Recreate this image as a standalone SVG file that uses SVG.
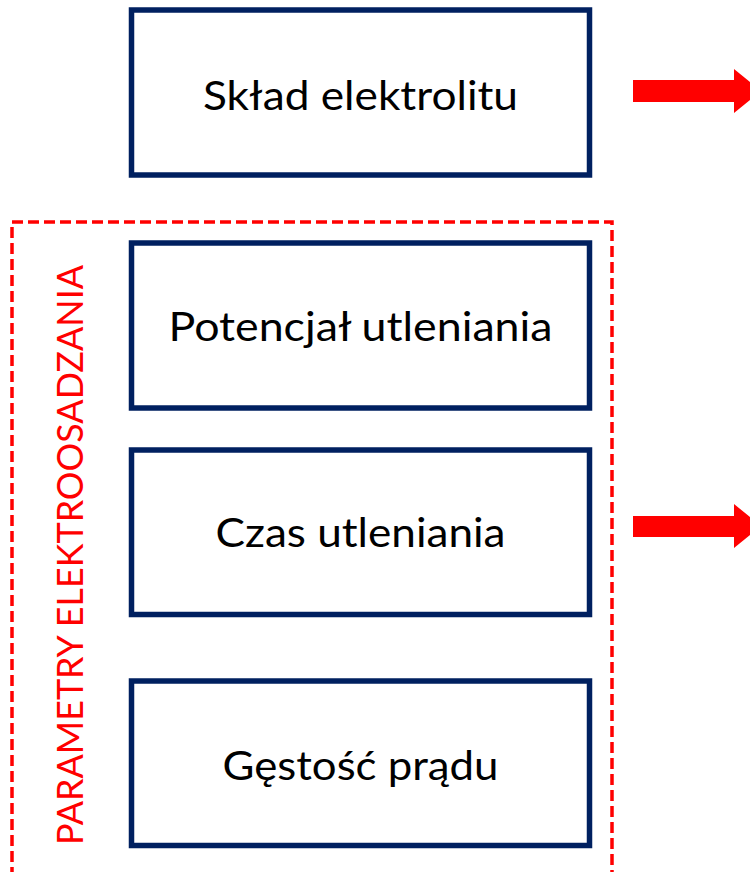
<svg xmlns="http://www.w3.org/2000/svg" width="750" height="872" viewBox="0 0 750 872">
<style>
.box{fill:#fff;stroke:#002060;stroke-width:5.5}
.lbl{font-family:Lato,"Liberation Sans",Arial,sans-serif;font-size:40px;fill:#000;text-anchor:middle}
.arrow{fill:#ff0000}
.grp{fill:none;stroke:#ff0000;stroke-width:3.5;stroke-dasharray:11 5}
.vlbl{font-family:Lato,"Liberation Sans",Arial,sans-serif;font-size:37px;fill:#ff0000;text-anchor:middle}
</style>
<rect width="750" height="872" fill="#fff"/>
<g id="group-parametry">
<rect class="grp" x="12" y="222" width="600" height="680"/>
<text class="vlbl" transform="translate(83,555) rotate(-90)" x="0" y="0" textLength="580" lengthAdjust="spacingAndGlyphs">PARAMETRY ELEKTROOSADZANIA</text>
</g>
<g id="node-sklad">
<rect class="box" x="131.5" y="10" width="458" height="165"/>
<text class="lbl" x="360.5" y="110" textLength="315" lengthAdjust="spacingAndGlyphs">Skład elektrolitu</text>
</g>
<g id="node-potencjal">
<rect class="box" x="131.5" y="243" width="458" height="165"/>
<text class="lbl" x="360.5" y="341" textLength="384" lengthAdjust="spacingAndGlyphs">Potencjał utleniania</text>
</g>
<g id="node-czas">
<rect class="box" x="131.5" y="450" width="458" height="164.5"/>
<text class="lbl" x="360.5" y="547" textLength="290" lengthAdjust="spacingAndGlyphs">Czas utleniania</text>
</g>
<g id="node-gestosc">
<rect class="box" x="131.5" y="681" width="458" height="164.5"/>
<text class="lbl" x="360.5" y="780" textLength="276" lengthAdjust="spacingAndGlyphs">Gęstość prądu</text>
</g>
<g id="connectors">
<polygon class="arrow" points="633,80 734,80 734,69 761,91 734,113 734,102 633,102"/>
<polygon class="arrow" points="633,516 734,516 734,504 761,526 734,548 734,537 633,537"/>
</g>
</svg>
